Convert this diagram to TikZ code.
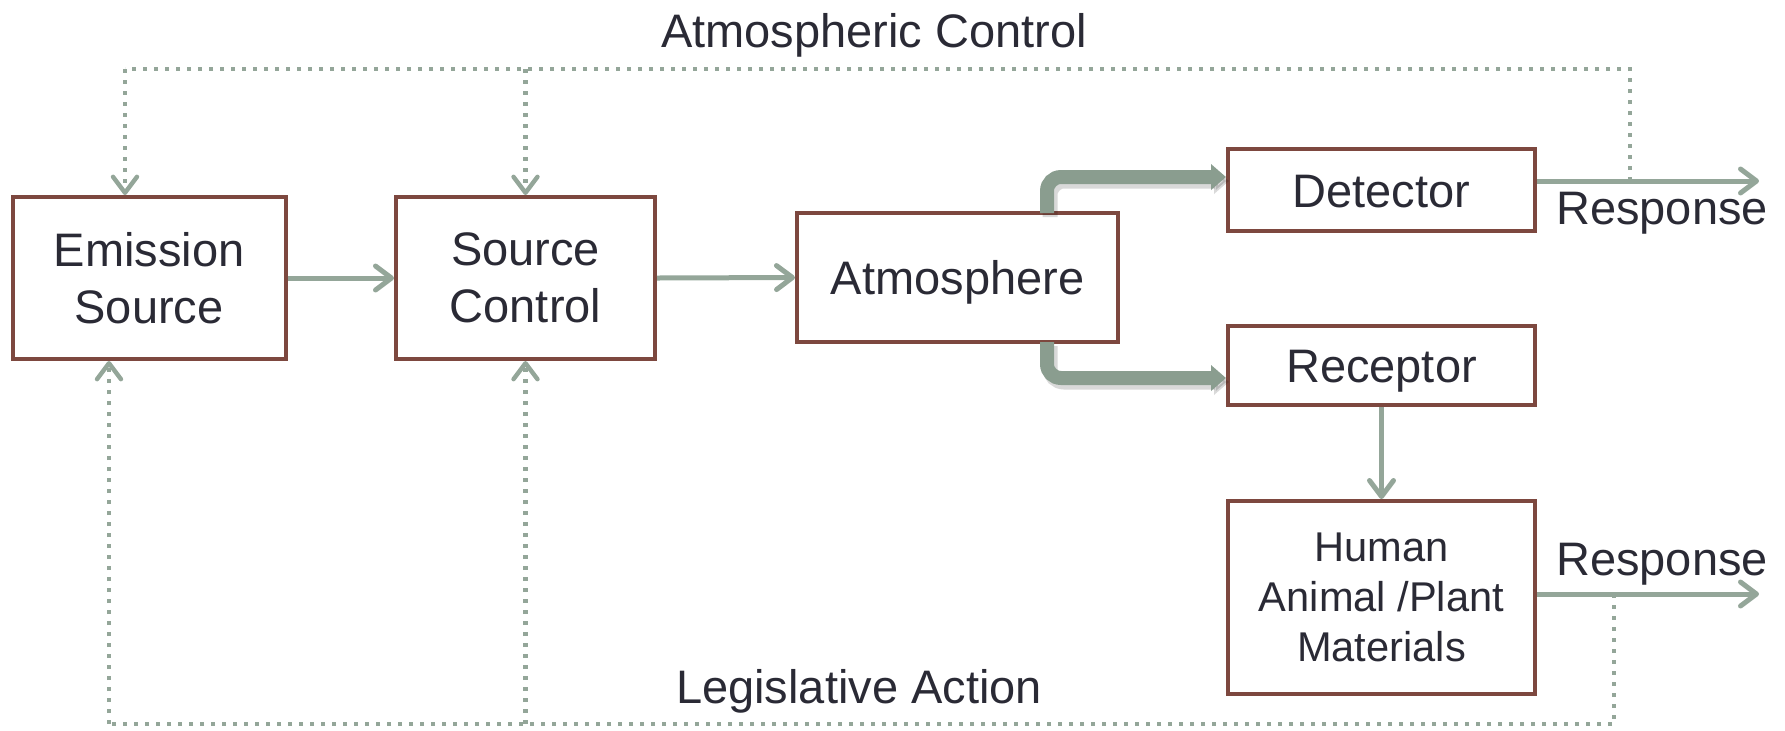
\documentclass[tikz,border=0pt]{standalone}
\usepackage{fontspec}
\setmainfont{Liberation Sans}
\usetikzlibrary{arrows.meta,calc}
\definecolor{boxbrown}{HTML}{7D483F}
\definecolor{linegreen}{HTML}{94A699}
\definecolor{thickgreen}{HTML}{8A9D8F}
\definecolor{txt}{HTML}{2A2A35}
\tikzset{
  box/.style={draw=boxbrown, line width=2pt, fill=white, inner sep=0pt, align=center,
    text=txt, font=\fontsize{23.5}{28.5}\selectfont},
  oneline/.style={text height=17pt, text depth=0pt},
  lbl/.style={inner sep=0pt, text=txt, font=\fontsize{23.5}{28.5}\selectfont, oneline},
  conn/.style={draw=linegreen, line width=2.5pt, -{Straight Barb[length=8pt,width=12pt,round]}},
  dotline/.style={draw=linegreen, line width=2.2pt, dash pattern=on 2.2pt off 3.3pt},
  dotarrow/.style={dotline, -{Straight Barb[length=8pt,width=12pt,round]}},
  fat/.style={draw=thickgreen, line width=7pt, rounded corners=7pt,
    -{Triangle[length=7.5pt,width=12.5pt]}},
  fatshadow/.style={draw=black, opacity=0.15, line width=7.5pt, rounded corners=7pt,
    -{Triangle[length=7.5pt,width=12.5pt]}},
}
\begin{document}
\begin{tikzpicture}[x=0.5pt,y=-0.5pt]
\useasboundingbox (0,0) rectangle (1785,730);
% boxes
\node[box, minimum width=136.5pt, minimum height=81pt] (emis) at (149,278) {Emission\\Source};
\node[box, minimum width=129.5pt, minimum height=81pt] (srcc) at (525.5,278) {Source\\Control};
\node[box, oneline, minimum width=160.5pt, minimum height=64.5pt] (atm) at (957.5,277.5) {Atmosphere};
\node[box, oneline, minimum width=153.5pt, minimum height=41pt] (det) at (1381.5,190) {Detector};
\node[box, oneline, minimum width=153.5pt, minimum height=39.5pt] (rec) at (1381.5,365.5) {Receptor};
\node[box, minimum width=153.5pt, minimum height=96.5pt,
  font=\fontsize{20.8}{25}\selectfont] (hum) at (1381.5,597.5) {Human\\Animal /Plant\\Materials};
% labels
\node[lbl] (atmctl) at (874,30) {Atmospheric Control};
\node[lbl] (legis) at (859,686) {Legislative Action};
\node[lbl] (resp1) at (1662,207) {Response};
\node[lbl] (resp2) at (1662,558) {Response};
% coordinates
\coordinate (r1end) at (1759,181);
\coordinate (r2end) at (1759,594);
\coordinate (tr) at (1630,181);
\coordinate (tl) at (125,69);
\coordinate (br) at (1614,594);
\coordinate (bl) at (109,724);
% thin arrows
\draw[conn] (emis.east) -- (srcc.west);
\draw[conn] (srcc.east) -- (atm.west);
\draw[conn] (rec.south) -- (hum.north);
\draw[conn] ([yshift=4.5pt]det.east) -- (r1end);
\draw[conn] ([yshift=1.75pt]hum.east) -- (r2end);
% thick arrows
\draw[fatshadow, transform canvas={xshift=1.5pt,yshift=-2pt}] ([xshift=-36.5pt,yshift=-1pt]atm.north east) |- ([yshift=6.5pt]det.west);
\draw[fatshadow, transform canvas={xshift=1.5pt,yshift=-2pt}] ([xshift=-36.5pt,yshift=1pt]atm.south east) |- ([yshift=-6.25pt]rec.west);
\draw[fat] ([xshift=-36.5pt,yshift=-1pt]atm.north east) |- ([yshift=6.5pt]det.west);
\draw[fat] ([xshift=-36.5pt,yshift=1pt]atm.south east) |- ([yshift=-6.25pt]rec.west);
% dotted feedback: atmospheric control
\draw[dotline] (tr) |- (tl);
\draw[dotarrow] (tl) -- (emis.north -| tl);
\draw[dotarrow] (srcc.north |- tl) -- (srcc.north);
% dotted feedback: legislative action
\draw[dotline] (br) |- (bl);
\draw[dotarrow] (bl) -- (emis.south -| bl);
\draw[dotarrow] (srcc.south |- bl) -- (srcc.south);
\end{tikzpicture}
\end{document}
